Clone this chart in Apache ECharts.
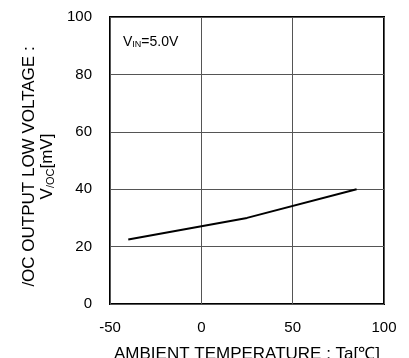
<!DOCTYPE html>
<html>
<head>
<meta charset="utf-8">
<script src="https://cdn.jsdelivr.net/npm/echarts@6/dist/echarts.min.js"></script>
<style>
  html, body { margin: 0; padding: 0; background: #fff; }
  #main { width: 409px; height: 358px; }
</style>
</head>
<body>
<div id="main"></div>
<script>
// 数据
const temps = [-40, 25, 85];       // Ta [℃]
const voc = [22.5, 30, 40];        // V/OC [mV]
const xTicks = [-50, 0, 50, 100];
const yTicks = [0, 20, 40, 60, 80, 100];

const myChart = echarts.init(document.getElementById('main'));
const font = 'Liberation Sans, Arial, sans-serif';

var option = {
  animation: false,
  grid: {
    left: 110, right: 25, top: 17, bottom: 54,
    outerBoundsMode: 'none',
    containLabel: false,
    show: true, borderColor: '#000', borderWidth: 2
  },
  xAxis: {
    type: 'value',
    min: xTicks[0], max: xTicks[xTicks.length - 1], interval: 50,
    axisLine: { show: false },
    axisTick: { show: false },
    splitLine: { lineStyle: { color: '#555', width: 1 } },
    axisLabel: { color: '#000', fontSize: 15, fontFamily: font, margin: 16 },
    name: 'AMBIENT TEMPERATURE : Ta[℃]',
    nameLocation: 'middle',
    nameGap: 42,
    nameTextStyle: { color: '#000', fontSize: 17, fontFamily: font }
  },
  yAxis: {
    type: 'value',
    min: yTicks[0], max: yTicks[yTicks.length - 1], interval: 20,
    axisLine: { show: false },
    axisTick: { show: false },
    splitLine: { lineStyle: { color: '#555', width: 1 } },
    axisLabel: { color: '#000', fontSize: 15, fontFamily: font, margin: 18 },
    name: '{t|/OC OUTPUT LOW VOLTAGE :}\n{t|V}{s|/OC}{t|[mV]}',
    nameLocation: 'middle',
    nameRotate: 90,
    nameGap: 51,
    nameTextStyle: {
      color: '#000', fontFamily: font,
      padding: [0, 12, 0, 0],
      rich: {
        t: { fontSize: 17, fontFamily: font, color: '#000', lineHeight: 18 },
        s: { fontSize: 11, fontFamily: font, color: '#000', lineHeight: 18, verticalAlign: 'bottom' }
      }
    }
  },
  graphic: [{
    type: 'text',
    left: 123, top: 35,
    style: {
      text: '{t|V}{s|IN}{t|=5.0V}',
      rich: {
        t: { fontSize: 14, fontFamily: font, fill: '#000' },
        s: { fontSize: 9, fontFamily: font, fill: '#000', verticalAlign: 'bottom' }
      }
    }
  }],
  series: [{
    type: 'line',
    data: temps.map((t, i) => [t, voc[i]]),
    showSymbol: false,
    lineStyle: { color: '#000', width: 2 }
  }]
};

myChart.setOption(option);
</script>
</body>
</html>
